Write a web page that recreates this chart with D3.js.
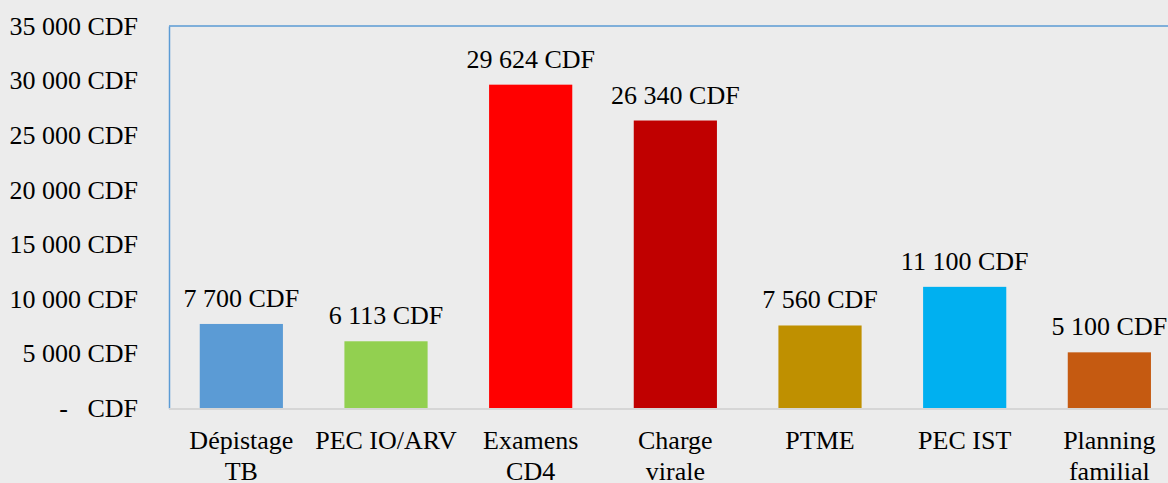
<!DOCTYPE html>
<meta charset="utf-8">
<script src="https://d3js.org/d3.v7.min.js"></script>
<style>
    body {
        margin: 0;
        background: #ececec;
    }
    text {
        font-family: "Liberation Serif", serif;
        font-size: 26px;
        fill: #000;
        white-space: pre;
    }
</style>
<div id="viz_area"></div>
<script>
    var categories = [["Dépistage", "TB"], ["PEC IO/ARV"], ["Examens", "CD4"], ["Charge", "virale"],
        ["PTME"], ["PEC IST"], ["Planning", "familial"]]
    var values = [7700, 6113, 29624, 26340, 7560, 11100, 5100]
    var colors = ["#5b9bd5", "#92d050", "#ff0000", "#c00000", "#bf9000", "#00b0f0", "#c55a11"]
    var yTicks = [0, 5000, 10000, 15000, 20000, 25000, 30000, 35000]

    var W = 1168, H = 483
    var plotLeft = 169, plotTop = 26, plotBottom = 408
    var step = 144.67

    var svg = d3.select("#viz_area").append("svg")
        .attr("width", W)
        .attr("height", H)

    svg.append("rect").attr("width", W).attr("height", H).attr("fill", "#ececec")

    var x = d3.scaleBand()
        .domain(d3.range(categories.length))
        .range([plotLeft, plotLeft + step * categories.length])
        .paddingInner(0.425)
        .paddingOuter(0.2125)

    var y = d3.scaleLinear()
        .domain([0, 35000])
        .range([plotBottom, plotTop])

    var fmt = function(d) {
        if (d === 0) return "-   CDF"
        return d3.format(",")(d).replace(/,/g, " ") + " CDF"
    }

    // top border
    svg.append("line")
        .attr("x1", plotLeft).attr("x2", W)
        .attr("y1", plotTop).attr("y2", plotTop)
        .attr("stroke", "#5b9bd5").attr("stroke-width", 1.5)

    // y axis
    var yAxis = svg.append("g")
        .attr("transform", "translate(" + plotLeft + ",0)")
        .call(d3.axisLeft(y).tickValues(yTicks).tickSize(0).tickPadding(31).tickFormat(fmt))
    yAxis.select(".domain").attr("stroke", "#5b9bd5").attr("stroke-width", 1.5)
    yAxis.attr("font-size", null).attr("font-family", null)

    // x axis line
    svg.append("line")
        .attr("x1", plotLeft).attr("x2", W)
        .attr("y1", plotBottom + 1).attr("y2", plotBottom + 1)
        .attr("stroke", "#d6d6d6").attr("stroke-width", 2)

    svg.selectAll(".bar")
        .data(values)
        .enter().append("rect")
        .attr("class", "bar")
        .attr("x", function(d, i) { return x(i) })
        .attr("y", function(d) { return y(d) })
        .attr("width", x.bandwidth())
        .attr("height", function(d) { return y(0) - y(d) })
        .attr("fill", function(d, i) { return colors[i] })

    svg.selectAll(".val")
        .data(values)
        .enter().append("text")
        .attr("class", "val")
        .attr("x", function(d, i) { return x(i) + x.bandwidth() / 2 })
        .attr("y", function(d) { return y(d) - 17 })
        .attr("text-anchor", "middle")
        .text(fmt)

    var cat = svg.selectAll(".cat")
        .data(categories)
        .enter().append("text")
        .attr("class", "cat")
        .attr("text-anchor", "middle")
        .attr("transform", function(d, i) {
            return "translate(" + (x(i) + x.bandwidth() / 2) + "," + (plotBottom + 41) + ")"
        })
    cat.selectAll("tspan")
        .data(function(d) { return d })
        .enter().append("tspan")
        .attr("x", 0)
        .attr("y", function(d, i) { return i * 31 })
        .text(function(d) { return d })
</script>
